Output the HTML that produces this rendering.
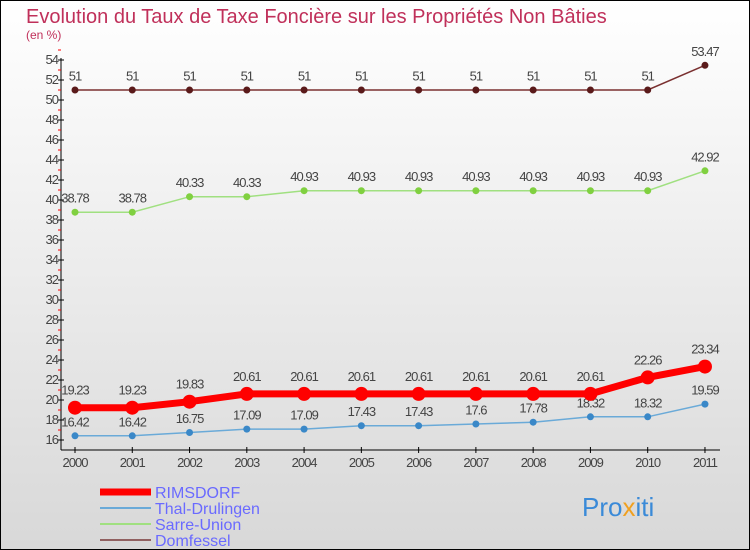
<!DOCTYPE html>
<html><head><meta charset="utf-8"><style>
body{margin:0}
svg{display:block;font-family:"Liberation Sans",sans-serif}
</style></head><body>
<svg id="c" width="750" height="550" xmlns="http://www.w3.org/2000/svg">
<defs><linearGradient id="bg" x1="0" y1="0" x2="0" y2="1"><stop offset="0" stop-color="#ffffff"/><stop offset="1" stop-color="#d8d8d8"/></linearGradient></defs>
<rect x="0.5" y="0.5" width="749" height="549" fill="url(#bg)" stroke="#000"/>
<text x="26" y="23" font-size="20" fill="#c0305a">Evolution du Taux de Taxe Foncière sur les Propriétés Non Bâties</text>
<text x="26" y="39" font-size="12" fill="#c0305a">(en %)</text>
<g id="axes"></g><g id="series"></g>
<g>
<line x1="100" y1="492" x2="151" y2="492" stroke="#f00" stroke-width="7"/>
<text x="155" y="498" font-size="16" fill="#6a6aff">RIMSDORF</text>
<line x1="100" y1="508" x2="151" y2="508" stroke="#6aaad8" stroke-width="2"/>
<text x="155" y="514" font-size="16" fill="#6a6aff">Thal-Drulingen</text>
<line x1="100" y1="524" x2="151" y2="524" stroke="#a0e080" stroke-width="2"/>
<text x="155" y="530" font-size="16" fill="#6a6aff">Sarre-Union</text>
<line x1="100" y1="540" x2="151" y2="540" stroke="#906060" stroke-width="2"/>
<text x="155" y="546" font-size="16" fill="#6a6aff">Domfessel</text>
</g>
<text x="582" y="516" font-size="26" fill="#3a8ad8">Pro<tspan fill="#f0a020">x</tspan>iti</text>
</svg>
<script>
const years=["2000","2001","2002","2003","2004","2005","2006","2007","2008","2009","2010","2011"];
const rimsdorf=[19.23,19.23,19.83,20.61,20.61,20.61,20.61,20.61,20.61,20.61,22.26,23.34];
const thal=[16.42,16.42,16.75,17.09,17.09,17.43,17.43,17.6,17.78,18.32,18.32,19.59];
const sarre=[38.78,38.78,40.33,40.33,40.93,40.93,40.93,40.93,40.93,40.93,40.93,42.92];
const domfessel=[51,51,51,51,51,51,51,51,51,51,51,53.47];
const yTicks=[16,18,20,22,24,26,28,30,32,34,36,38,40,42,44,46,48,50,52,54];
const NS="http://www.w3.org/2000/svg";
const X=i=>75+i*57.27, Y=v=>440-(v-16)*10;
function mk(t,a,p){const e=document.createElementNS(NS,t);for(const k in a)e.setAttribute(k,a[k]);p.appendChild(e);return e;}
const ax=document.getElementById('axes');
let l=mk('line',{x1:61,y1:58,x2:61,y2:450,stroke:'#000'},ax);


l=mk('line',{x1:61,y1:450,x2:720,y2:450,stroke:'#000'},ax);


yTicks.forEach(v=>{mk('line',{x1:58,y1:Y(v),x2:64,y2:Y(v),stroke:'#000'},ax);
mk('line',{x1:58,y1:Y(v+1),x2:61,y2:Y(v+1),stroke:'#f00'},ax);
const t=mk('text',{x:58,y:Y(v)+4,'font-size':13,'text-anchor':'end',fill:'#444','letter-spacing':'-1'},ax);t.textContent=v;

});
years.forEach((y,i)=>{mk('line',{x1:X(i),y1:447,x2:X(i),y2:453,stroke:'#000'},ax);
const t=mk('text',{x:X(i),y:467,'font-size':13,'text-anchor':'middle',fill:'#444','letter-spacing':'-1'},ax);t.textContent=y;

});
const sg=document.getElementById('series');
function series(name,data,color,dot,w,r){
const g=mk('g',{},sg);


mk('polyline',{points:data.map((v,i)=>X(i)+','+Y(v)).join(' '),fill:'none',stroke:color,'stroke-width':w},g);
data.forEach((v,i)=>{const c=mk('circle',{cx:X(i),cy:Y(v),r:r,fill:dot},g);


const t=mk('text',{x:X(i),y:Y(v)-r-6,'font-size':13,'text-anchor':'middle',fill:'#444','letter-spacing':'-1'},g);t.textContent=v;

});}
series('domfessel',domfessel,'#7a3030','#5a1a1a',1.5,3.5);
series('sarre-union',sarre,'#a0e080','#80d040',1.5,3.5);
series('thal-drulingen',thal,'#6aaad8','#3a88c8',1.5,3.5);
series('rimsdorf',rimsdorf,'#f00','#f00',7,7);
</script>
</body></html>
